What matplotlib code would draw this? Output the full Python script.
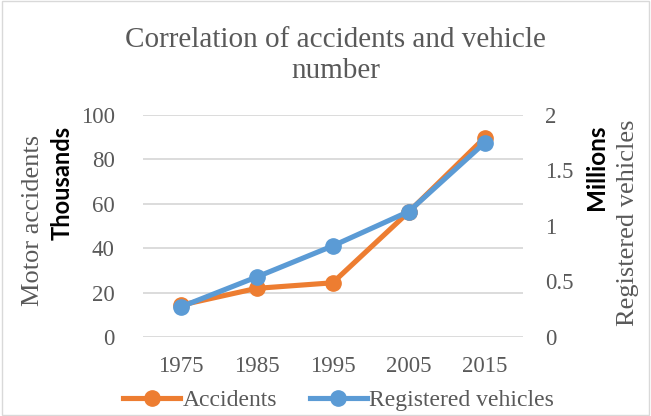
import matplotlib
matplotlib.use("Agg")
import matplotlib.pyplot as plt
from matplotlib.lines import Line2D

years = ["1975", "1985", "1995", "2005", "2015"]
accidents_k = [14.3, 21.9, 24.4, 56.3, 89.8]
vehicles_m = [0.27, 0.54, 0.82, 1.13, 1.75]

ORANGE = "#ED7D31"
BLUE = "#5B9BD5"
GREY = "#595959"
GRID = "#D9D9D9"
SERIF = "Liberation Serif"
SANS = "Lato"

fig = plt.figure(figsize=(6.51, 4.16), dpi=100)
ax = fig.add_axes([0.219, 0.19, 0.584, 0.5336])
ax2 = ax.twinx()

x = list(range(len(years)))
ax.plot(x, accidents_k, color=ORANGE, lw=3.7, marker="o", ms=11,
        solid_capstyle="round", zorder=3)
ax2.plot(x, vehicles_m, color=BLUE, lw=3.7, marker="o", ms=11,
         solid_capstyle="round", zorder=3)

ax.set_xlim(-0.5, len(years) - 0.5)
ax.set_ylim(0, 100)
ax2.set_ylim(0, 2)
ax.set_yticks([0, 20, 40, 60, 80, 100])
ax2.set_yticks([0, 0.5, 1, 1.5, 2])
ax2.set_yticklabels(["0", "0.5", "1", "1.5", "2"])
ax.set_xticks(x)
ax.set_xticklabels(years)

ax.grid(axis="y", color=GRID, lw=1.3)
ax.set_axisbelow(True)
for a in (ax, ax2):
    for s in a.spines.values():
        s.set_visible(False)
    a.tick_params(length=0, labelsize=16.5, labelcolor=GREY)
    for lab in a.get_xticklabels() + a.get_yticklabels():
        lab.set_fontfamily(SERIF)
ax.tick_params(axis="y", pad=20)
ax2.tick_params(axis="y", pad=16)
ax.tick_params(axis="x", pad=14)

fig.text(0.516, 0.935, "Correlation of accidents and vehicle\nnumber",
         ha="center", va="top", fontsize=21, color=GREY, family=SERIF,
         linespacing=1.25)

fig.text(0.0507, 0.471, "Motor accidents", rotation=90, ha="center",
         va="center", fontsize=19, color=GREY, family=SERIF)
fig.text(0.0952, 0.561, "Thousands", rotation=90, ha="center", va="center",
         fontsize=17, color="black", family=SANS, weight="bold")
fig.text(0.917, 0.597, "Millions", rotation=90, ha="center", va="center",
         fontsize=17.5, color="black", family=SANS, weight="bold")
fig.text(0.9647, 0.465, "Registered vehicles", rotation=90, ha="center",
         va="center", fontsize=19, color=GREY, family=SERIF)

handles = [Line2D([], [], color=ORANGE, lw=3.7, marker="o", ms=11),
           Line2D([], [], color=BLUE, lw=3.7, marker="o", ms=11)]
fig.legend(handles, ["Accidents", "Registered vehicles"], loc="center",
           bbox_to_anchor=(0.52, 0.038), ncol=2, frameon=False,
           prop={"family": SERIF, "size": 17}, labelcolor=GREY,
           handlelength=2.4, handletextpad=0.1, columnspacing=1.4)

fig.patches.append(plt.Rectangle((0.003, 0.003), 0.994, 0.994,
                                 transform=fig.transFigure, fill=False,
                                 edgecolor=GRID, lw=1))

fig.savefig("out.png", dpi=100)
